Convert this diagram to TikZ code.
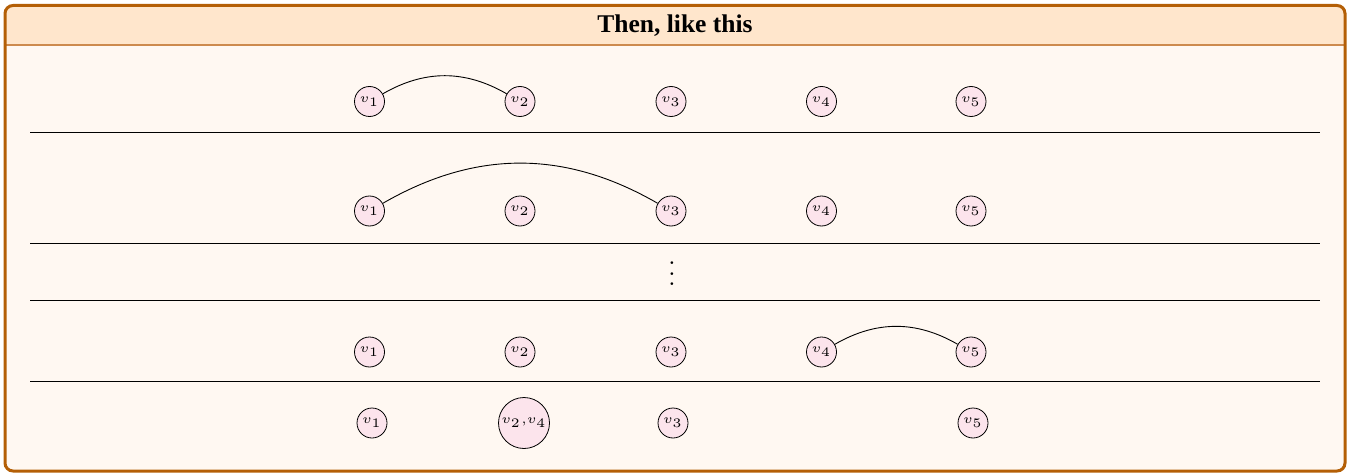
\documentclass[tikz,border=0pt]{standalone}
\usepackage{graphicx}
\usepackage{fontspec}
\newfontfamily\titlefont{Liberation Serif}
\definecolor{framecol}{HTML}{B45F06}
\definecolor{headrule}{HTML}{CD8A4E}
\definecolor{headfill}{HTML}{FFE6CC}
\definecolor{bodyfill}{HTML}{FFF8F2}
\definecolor{nodepink}{HTML}{FCE4EC}
% vertex labels: tiny maths, enlarged
\newcommand{\vlab}[1]{\scalebox{2.6}{\tiny$#1$}}
\begin{document}
\begin{tikzpicture}[x=1pt,y=1pt,
  vtx/.style={circle,draw,line width=0.8pt,fill=nodepink,minimum size=30pt,
    inner sep=0pt},
  bigvtx/.style={vtx,minimum size=51pt},
  rowrule/.style={line width=1pt},
  linkcurve/.style={line width=0.9pt,bend left=30}]
\path[use as bounding box] (0,0) rectangle (1348,-473);
% panel background, header band and frame
\fill[bodyfill,rounded corners=8pt] (5,-5.5) rectangle (1345,-471);
\fill[headfill] (5,-45) {[rounded corners=8pt] -- (5,-5.5) -- (1345,-5.5)} -- (1345,-45) -- cycle;
\draw[headrule,line width=1.5pt] (5,-45) -- (1345,-45);
\draw[framecol,line width=3pt,rounded corners=8pt] (5,-5.5) rectangle (1345,-471);
\node[font=\titlefont\bfseries\fontsize{25.5}{30}\selectfont] (title) at (675,-25.5) {Then, like this};
% separators between the rows
\draw[rowrule] (30,-133) -- (1320,-133);
\draw[rowrule] (30,-243) -- (1320,-243);
\draw[rowrule] (30,-300) -- (1320,-300);
\draw[rowrule] (30,-381) -- (1320,-381);
% row 1
\node[vtx] (a1) at (369.5,-101.5) {\vlab{v_1}};
\node[vtx] (a2) at (520,-101.5) {\vlab{v_2}};
\node[vtx] (a3) at (671,-101.5) {\vlab{v_3}};
\node[vtx] (a4) at (821.5,-101.5) {\vlab{v_4}};
\node[vtx] (a5) at (971,-101.5) {\vlab{v_5}};
\draw[linkcurve] (a1) to (a2);
% row 2
\node[vtx] (b1) at (369.5,-211) {\vlab{v_1}};
\node[vtx] (b2) at (520,-211) {\vlab{v_2}};
\node[vtx] (b3) at (671,-211) {\vlab{v_3}};
\node[vtx] (b4) at (821.5,-211) {\vlab{v_4}};
\node[vtx] (b5) at (971,-211) {\vlab{v_5}};
\draw[linkcurve] (b1) to (b3);
% omitted rows
\node (dots) at (672,-266) {\scalebox{2.6}{$\vdots$}};
% row 4
\node[vtx] (c1) at (369.5,-352) {\vlab{v_1}};
\node[vtx] (c2) at (520,-352) {\vlab{v_2}};
\node[vtx] (c3) at (671,-352) {\vlab{v_3}};
\node[vtx] (c4) at (821.5,-352) {\vlab{v_4}};
\node[vtx] (c5) at (971,-352) {\vlab{v_5}};
\draw[linkcurve] (c4) to (c5);
% row 5: v2 and v4 merged
\node[vtx] (d1) at (372,-423) {\vlab{v_1}};
\node[bigvtx] (d24) at (524,-423) {\vlab{v_2{,}v_4}};
\node[vtx] (d3) at (673,-423) {\vlab{v_3}};
\node[vtx] (d5) at (973,-423) {\vlab{v_5}};
\end{tikzpicture}
\end{document}
